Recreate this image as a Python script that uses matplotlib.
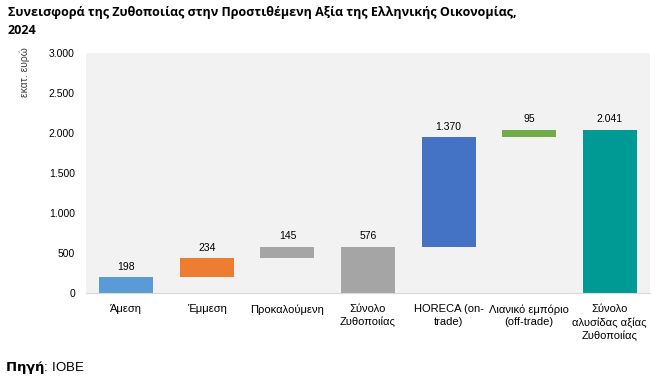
import matplotlib.pyplot as plt

categories = ["Άμεση", "Έμμεση", "Προκαλούμενη", "Σύνολο\nΖυθοποιίας",
              "HORECA (on-\ntrade)", "Λιανικό εμπόριο\n(off-trade)",
              "Σύνολο\nαλυσίδας αξίας\nΖυθοποιίας"]
values = [198, 234, 145, 576, 1370, 95, 2041]
bases = [0, 198, 432, 0, 576, 1946, 0]
labels = ["198", "234", "145", "576", "1.370", "95", "2.041"]
colors = ["#5B9BD5", "#ED7D31", "#A5A5A5", "#A5A5A5", "#4472C4", "#70AD47", "#009A94"]
yticks = [0, 500, 1000, 1500, 2000, 2500, 3000]

plt.rcParams['font.family'] = ['Liberation Sans', 'DejaVu Sans']

fig = plt.figure(figsize=(6.56, 3.79), dpi=100)
ax = fig.add_axes([86 / 656, 1 - 293 / 379, 564 / 656, 240 / 379])
ax.set_facecolor("#F2F2F2")

x = range(len(categories))
ax.bar(x, values, bottom=bases, width=0.67, color=colors)
for i, (v, b, lab) in enumerate(zip(values, bases, labels)):
    ax.annotate(lab, (i, v + b), xytext=(0, 4), textcoords="offset points",
                ha="center", va="bottom", fontsize=7.5)

ax.set_xlim(-0.5, len(categories) - 0.5)
ax.set_ylim(0, 3000)
ax.set_yticks(yticks)
ax.set_yticklabels([f"{t:,}".replace(",", ".") for t in yticks], fontsize=7.5)
ax.set_xticks(list(x))
ax.set_xticklabels(categories, fontsize=8, linespacing=1.35)
ax.tick_params(length=0, pad=8)
for s in ["top", "right", "left"]:
    ax.spines[s].set_visible(False)
ax.spines["bottom"].set_color("#D9D9D9")

fig.text(25 / 656, 1 - 72 / 379, "εκατ. ευρώ", rotation=90, fontsize=7.5,
         ha="center", va="center", color="#404040")

fig.text(8 / 656, 1 - 6 / 379,
         "Συνεισφορά της Ζυθοποιίας στην Προστιθέμενη Αξία της Ελληνικής Οικονομίας,\n2024",
         fontsize=9, fontweight="bold", ha="left", va="top", linespacing=1.45,
         family=['Open Sans', 'DejaVu Sans'])

fig.text(5 / 656, 1 - 367 / 379, r"$\bf{Πηγή}$: IOBE", fontsize=9.5, ha="left", va="center")

fig.savefig("out.png", dpi=100)
